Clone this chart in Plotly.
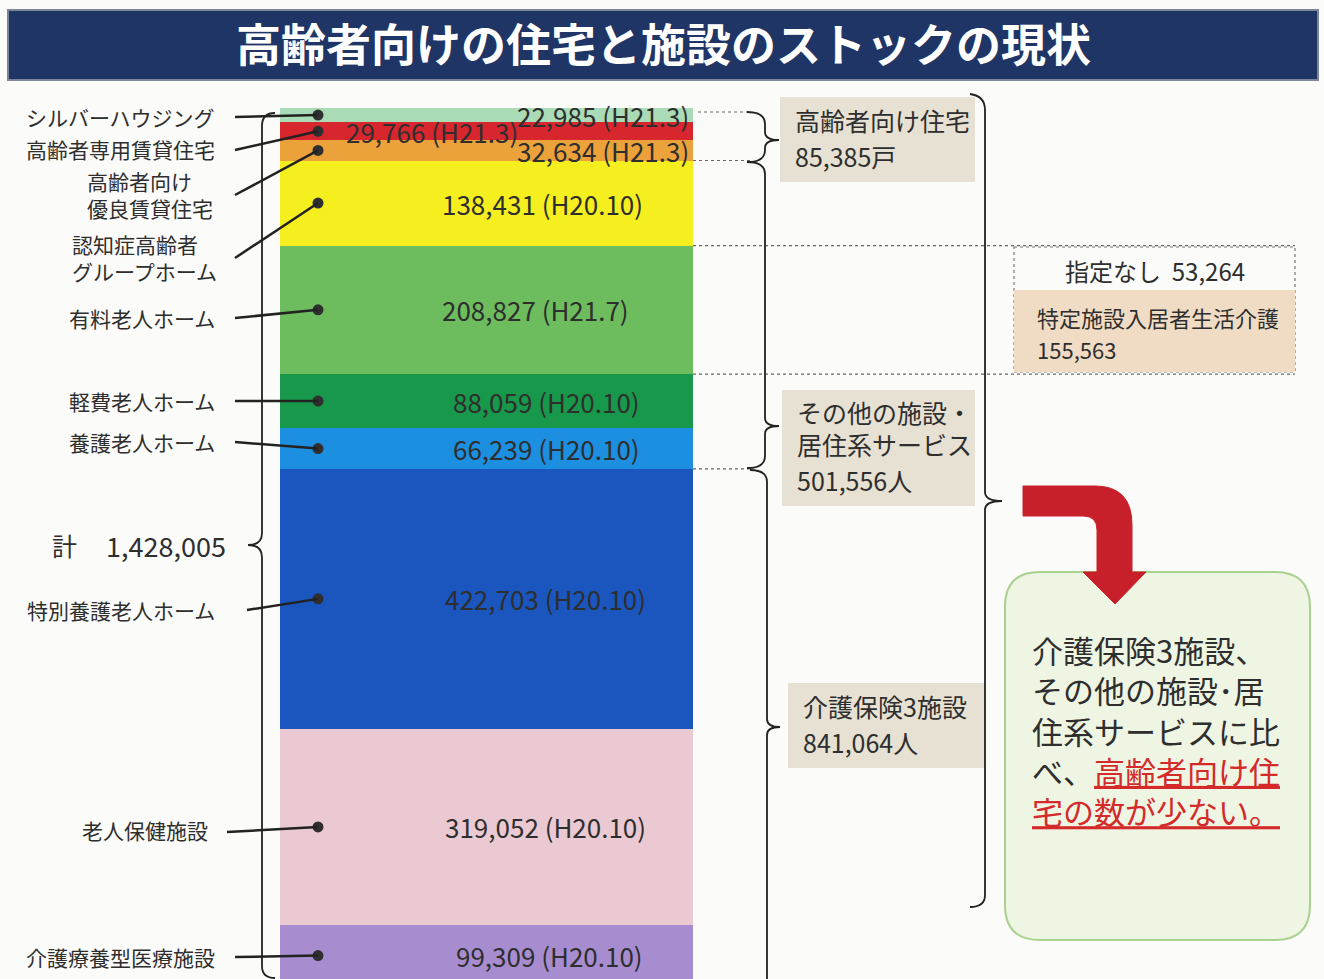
import plotly.graph_objects as go

# data
CATEGORIES = [
    'シルバーハウジング', '高齢者専用賃貸住宅', '高齢者向け<br>優良賃貸住宅',
    '認知症高齢者<br>グループホーム', '有料老人ホーム', '軽費老人ホーム',
    '養護老人ホーム', '特別養護老人ホーム', '老人保健施設', '介護療養型医療施設',
]
VALUES = [22985, 29766, 32634, 138431, 208827, 88059, 66239, 422703, 319052, 99309]
DATES = ['H21.3', 'H21.3', 'H21.3', 'H20.10', 'H21.7', 'H20.10',
         'H20.10', 'H20.10', 'H20.10', 'H20.10']
GROUP_NAMES = ['高齢者向け住宅', 'その他の施設・<br>居住系サービス', '介護保険3施設']
GROUP_TOTALS = [85385, 501556, 841064]
GROUP_UNITS = ['戸', '人', '人']
TOTAL = 1428005
TOKUTEI_NONE = 53264
TOKUTEI_CARE = 155563

COLORS = ['#a9dcb6', '#d8262f', '#eca23a', '#f6ef1f', '#6dbd5e', '#18984a',
          '#1d8fe0', '#1a56be', '#ebc9d2', '#a78dd0']

FONT = 'Noto Sans CJK JP'
TEXT = '#2e2e2e'
W, H = 1324, 979
BAR_TOP, BAR_BOTTOM = 108, 979
Y_MAX = 1416500


def to_px(v):
    return BAR_TOP + v * (BAR_BOTTOM - BAR_TOP) / Y_MAX


cum = [sum(VALUES[:i]) for i in range(len(VALUES) + 1)]
mids = [(cum[i] + cum[i + 1]) / 2 for i in range(len(VALUES))]

fig = go.Figure()

for name, val, col in zip(CATEGORIES, VALUES, COLORS):
    fig.add_trace(go.Bar(
        x=[486.5], y=[val], width=[413], name=name,
        marker=dict(color=col, line=dict(width=0)),
        showlegend=False, hoverinfo='skip'
    ))

# dots on the bar
fig.add_trace(go.Scatter(
    x=[318] * len(VALUES), y=mids, mode='markers',
    marker=dict(color='#2f2f2f', size=11), showlegend=False, hoverinfo='skip'
))
# invisible trace so the pixel overlay axes exist
fig.add_trace(go.Scatter(x=[0], y=[0], xaxis='x2', yaxis='y2', mode='markers',
                         marker=dict(opacity=0), showlegend=False, hoverinfo='skip'))

shapes = []
ann = []


def line(x0, y0, x1, y1, color='#222', width=2, dash=None):
    d = dict(type='line', xref='x2', yref='y2', x0=x0, y0=y0, x1=x1, y1=y1,
             line=dict(color=color, width=width))
    if dash:
        d['line']['dash'] = dash
    shapes.append(d)


def rect(x0, y0, x1, y1, fill, lc=None, lw=0, dash=None):
    d = dict(type='rect', xref='x2', yref='y2', x0=x0, y0=y0, x1=x1, y1=y1,
             fillcolor=fill, line=dict(color=lc or fill, width=lw), layer='below')
    if dash:
        d['line']['dash'] = dash
    shapes.append(d)


def path(p, color='#222', width=2, fill=None):
    shapes.append(dict(type='path', xref='x2', yref='y2', path=p,
                       line=dict(color=color, width=width),
                       fillcolor=fill if fill else 'rgba(0,0,0,0)'))


def text(x, y, s, size=21, color=TEXT, xa='left', ya='middle', bold=False):
    ann.append(dict(xref='x2', yref='y2', x=x, y=y, text=f'<b>{s}</b>' if bold else s,
                    showarrow=False, xanchor=xa, yanchor=ya, align='left',
                    font=dict(family=FONT, size=size, color=color)))


def lines(x, ys, s, size=21, xa='left'):
    for y, part in zip(ys, s.split('<br>')):
        text(x, y, part, size=size, xa=xa)


# title banner
rect(8, 10, 1318, 80, '#1f3566', '#7d8596', 2)
text(663, 42, '高齢者向けの住宅と施設のストックの現状', size=45, color='white',
     xa='center', bold=True)

# value labels inside the bar
VALUE_X = [603, 432, 603, 542, 535, 546, 546, 545, 545, 549]
for i, (v, d) in enumerate(zip(VALUES, DATES)):
    ann.append(dict(xref='x', yref='y', x=VALUE_X[i], y=mids[i], text=f'{v:,} ({d})',
                    showarrow=False, xanchor='center', yanchor='middle',
                    font=dict(family=FONT, size=26, color=TEXT)))

# left labels and leader lines
LABEL_POS = [(217, 117, 'right'), (217, 149, 'right'), (85, 194, 'left'),
             (70, 257, 'left'), (217, 318, 'right'), (217, 401, 'right'),
             (217, 442, 'right'), (217, 610, 'right'), (210, 830, 'right'),
             (217, 957, 'right')]
LEADER_START = [(235, 117), (235, 150), (235, 195), (235, 258), (235, 318),
                (235, 401), (235, 442), (247, 610), (227, 832), (235, 957)]
for i, name in enumerate(CATEGORIES):
    x, y, a = LABEL_POS[i]
    text(x, y, name, size=21, xa=a)
    sx, sy = LEADER_START[i]
    line(sx, sy, 318, to_px(mids[i]), color='#222', width=2.5)

# total brace on the left
path('M 275,113 Q 262,113 262,126 L 262,533 Q 262,545 248,545 '
     'Q 262,545 262,557 L 262,966 Q 262,978 275,978', width=1.8)
text(50, 545, '計', size=25)
text(228, 545, f'{TOTAL:,}', size=27, xa='right')

# dotted guides from the bar
DOT = '#666'
bar_r = 693
line(bar_r + 5, to_px(0) + 4, 750, to_px(0) + 4, DOT, 1.2, 'dot')
line(bar_r, to_px(cum[3]), 750, to_px(cum[3]), DOT, 1.2, 'dot')
line(bar_r, to_px(cum[7]), 750, to_px(cum[7]), DOT, 1.2, 'dot')
line(bar_r, to_px(cum[4]), 1295, to_px(cum[4]), DOT, 1.2, 'dot')
line(bar_r, to_px(cum[5]), 1295, to_px(cum[5]), DOT, 1.2, 'dot')


# group braces
def brace(top, bottom, tip):
    path(f'M 747,{top} Q 765,{top} 765,{top + 12} L 765,{tip - 8} '
         f'Q 765,{tip} 779,{tip} Q 765,{tip} 765,{tip + 8} '
         f'L 765,{bottom - 12} Q 765,{bottom} 747,{bottom}', width=1.8)


brace(112, 162, 140)
brace(162, 468, 426)
path('M 750,470 Q 767,470 767,482 L 767,719 Q 767,727 780,727 '
     'Q 767,727 767,735 L 767,985', width=1.8)

# big brace on the right
path('M 970,94 Q 985,96 985,110 L 985,492 Q 985,501 1002,501 '
     'Q 985,501 985,510 L 985,895 Q 985,907 970,907', width=1.8)

# group boxes
BOX = [(780, 97, 975, 182), (782, 390, 975, 506), (788, 683, 985, 768)]
BOX_LINES = [[120, 156], [412, 444, 480], [706, 742]]
for (x0, y0, x1, y1), ys, name, tot, unit in zip(BOX, BOX_LINES, GROUP_NAMES,
                                                 GROUP_TOTALS, GROUP_UNITS):
    rect(x0, y0, x1, y1, '#e6e1d2')
    lines(x0 + 13, ys, f'{name}<br>{tot:,}{unit}', size=25)

# 特定施設 box
rect(1014, 247, 1295, 372, 'rgba(0,0,0,0)', '#777', 1.2, 'dot')
rect(1014, 290, 1295, 372, '#f0dcc4')
text(1155, 270, f'指定なし  {TOKUTEI_NONE:,}', size=24, xa='center')
lines(1035, [317, 349], f'特定施設入居者生活介護<br>{TOKUTEI_CARE:,}', size=22)

# conclusion box
shapes.append(dict(type='path', xref='x2', yref='y2',
                   path='M 1040,572 L 1275,572 Q 1310,572 1310,607 L 1310,905 '
                        'Q 1310,940 1275,940 L 1040,940 Q 1005,940 1005,905 '
                        'L 1005,607 Q 1005,572 1040,572 Z',
                   fillcolor='#eef5e3', line=dict(color='#a9d18f', width=2)))
RED = '#d42a2a'
u = 'text-decoration:underline'
text(1030, 730,
     '介護保険3施設、<br>その他の施設･居<br>住系サービスに比<br>'
     f'べ、<span style="color:{RED};{u}">高齢者向け住</span><br>'
     f'<span style="color:{RED};{u}">宅の数が少ない。</span>',
     size=31)

# red arrow
path('M 1023,486 L 1095,486 Q 1132,486 1132,525 L 1132,572 L 1146,572 '
     'L 1115,604 L 1083,572 L 1097,572 L 1097,530 Q 1097,516 1083,516 '
     'L 1023,516 Z', color='#c8202a', width=1, fill='#c8202a')

fig.update_layout(
    width=W, height=H,
    margin=dict(l=0, r=0, t=0, b=0),
    paper_bgcolor='#fbfbf9', plot_bgcolor='rgba(0,0,0,0)',
    barmode='stack', bargap=0,
    xaxis=dict(range=[0, W], visible=False, domain=[0, 1], fixedrange=True),
    yaxis=dict(range=[Y_MAX, 0], visible=False,
               domain=[0, 1 - BAR_TOP / H], fixedrange=True),
    xaxis2=dict(range=[0, W], visible=False, domain=[0, 1], anchor='y2'),
    yaxis2=dict(range=[H, 0], visible=False, domain=[0, 1], anchor='x2'),
    shapes=shapes, annotations=ann,
)

# the page's default body margin would shift the figure by 8px
fig.write_html('out.html', config={'displayModeBar': False},
               post_script="document.body.style.margin='0';")
